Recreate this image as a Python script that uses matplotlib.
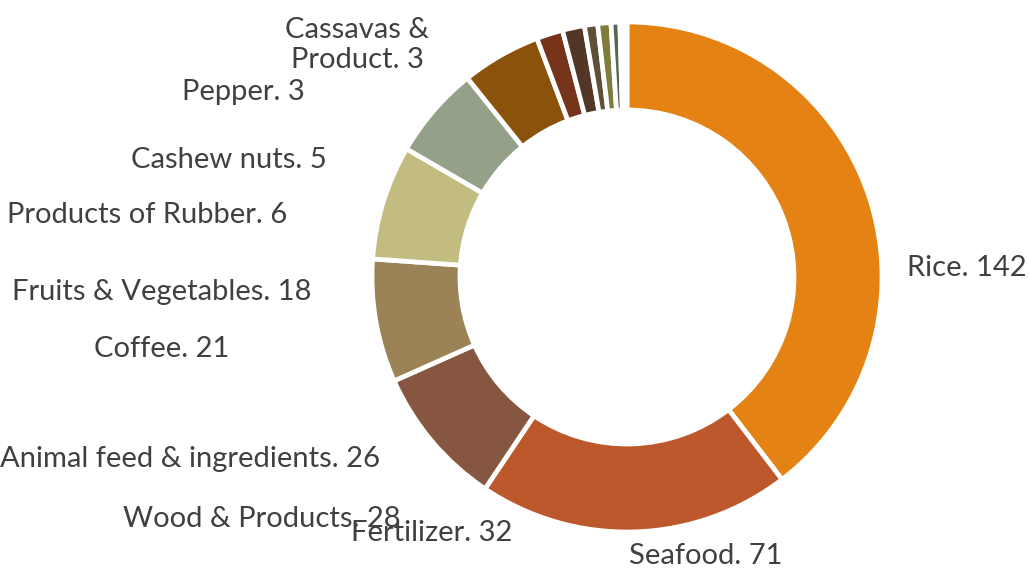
import matplotlib
matplotlib.use("Agg")
import matplotlib.pyplot as plt

# ---- data ----
categories = ["Rice", "Seafood", "Fertilizer", "Wood & Products",
              "Animal feed & ingredients", "Coffee", "Fruits & Vegetables",
              "Products of Rubber", "Cashew nuts", "Pepper", "Cassavas & Product",
              "Other 1", "Other 2", "Other 3"]
values = [142, 71, 32, 28, 26, 21, 18, 6, 5, 3, 3, 2, 0.4, 1.2]
colors = ["#E48213", "#BD582C", "#865640", "#9C8357", "#C3BC80", "#94A088",
          "#8A520B", "#76351B", "#523627", "#5E5037", "#7F7C3C", "#586552",
          "#F1C89A", "#FFFFFF"]
label_texts = ["Rice. 142", "Seafood. 71", "Fertilizer. 32", "Wood & Products. 28",
               "Animal feed & ingredients. 26", "Coffee. 21",
               "Fruits & Vegetables. 18", "Products of Rubber. 6",
               "Cashew nuts. 5", "Pepper. 3", "Cassavas &\nProduct. 3"]
# label centre positions in pixels (layout)
label_pos = [(967, 268), (706, 556), (432, 533), (262, 519), (190, 459),
             (162, 349), (162, 292), (147, 215), (229, 160), (243, 92), (357, 45)]

W, H = 1029, 569
cx, cy, R = 627, 277, 255

fig = plt.figure(figsize=(W / 100, H / 100), dpi=100)
ax = fig.add_axes([(cx - R) / W, (H - cy - R) / H, 2 * R / W, 2 * R / H])
ax.pie(values, colors=colors, startangle=90, counterclock=False, radius=1.0,
       wedgeprops=dict(width=0.345, edgecolor="white", linewidth=3.4))
ax.set_xlim(-1, 1)
ax.set_ylim(-1, 1)
ax.set_aspect("equal")
ax.axis("off")

for txt, (px, py) in zip(label_texts, label_pos):
    fig.text(px / W, 1 - py / H, txt, ha="center", va="center",
             fontsize=21, color="#404040", family=["Lato", "DejaVu Sans"],
             linespacing=1.2)

fig.savefig("out.png", dpi=100)
